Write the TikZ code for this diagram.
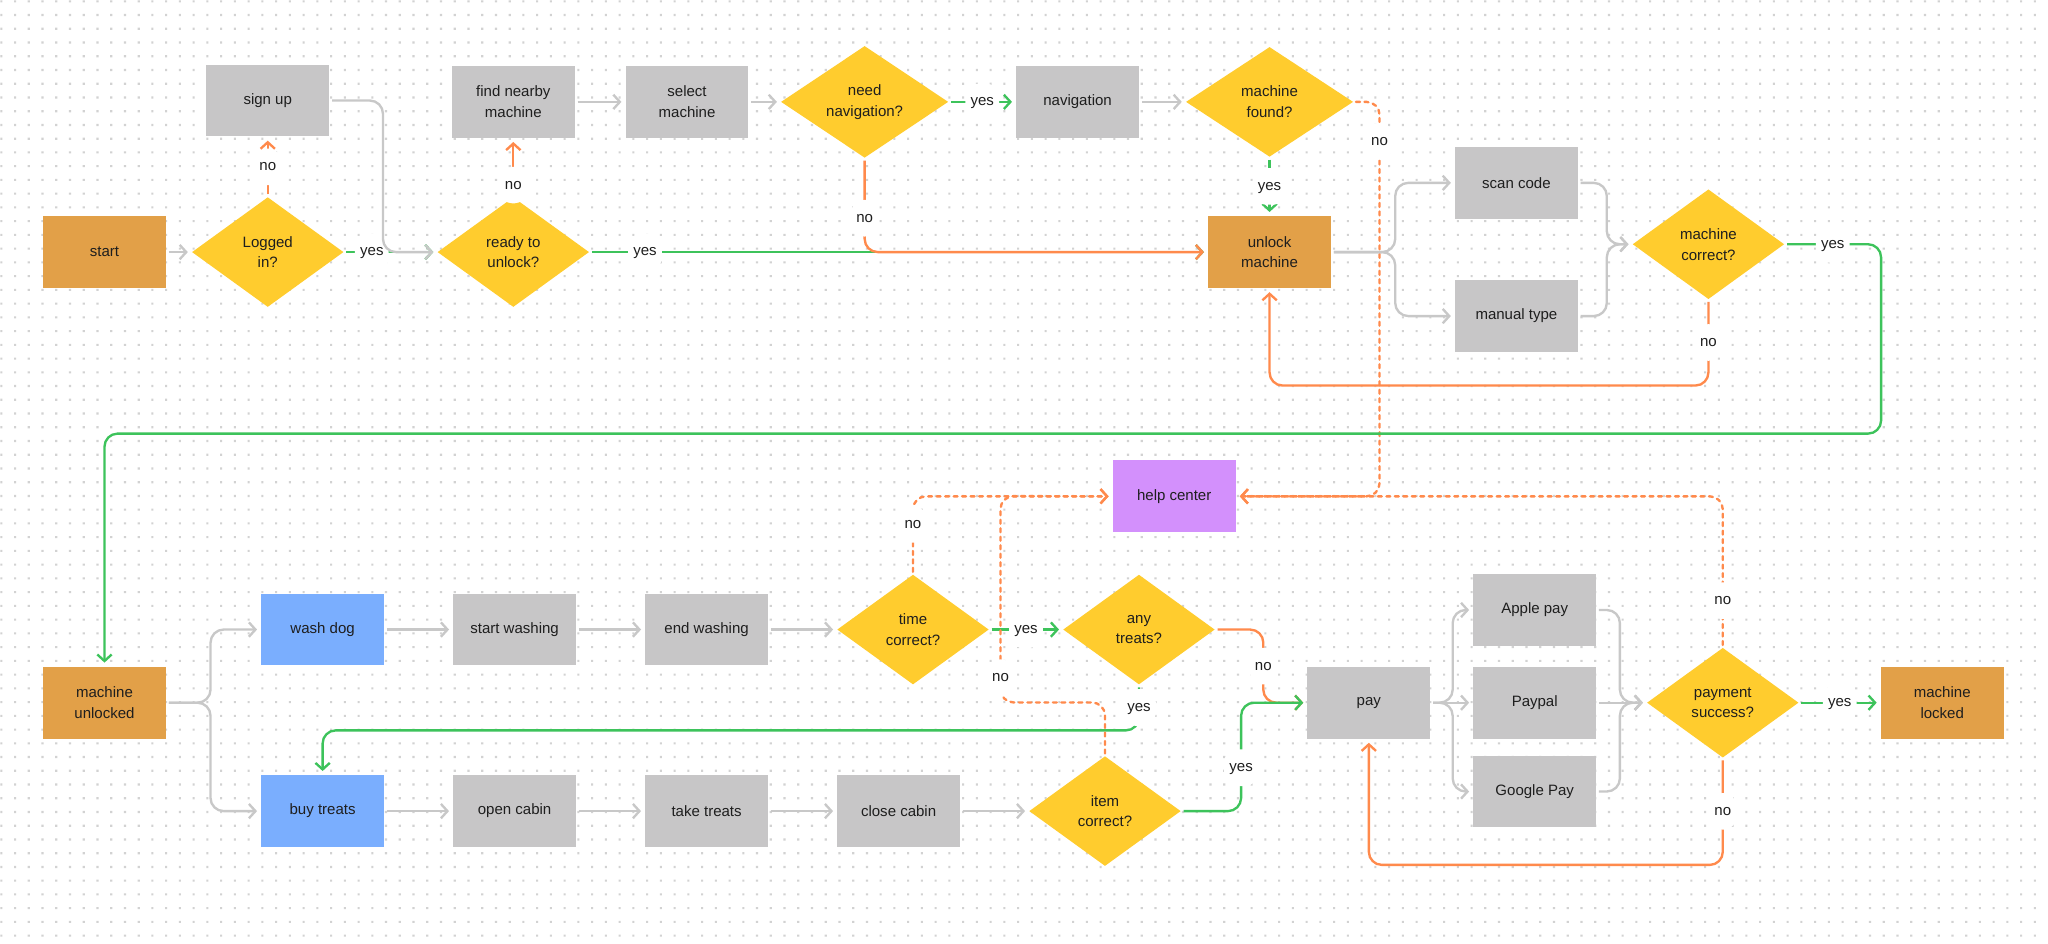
\documentclass[tikz,border=0pt]{standalone}
\usepackage{fontspec}
\setmainfont{Liberation Sans}
\usetikzlibrary{shapes.geometric,arrows.meta}

\definecolor{boxgray}{HTML}{C7C6C7}
\definecolor{boxorange}{HTML}{E2A048}
\definecolor{diayellow}{HTML}{FFCC2E}
\definecolor{boxblue}{HTML}{7AAEFE}
\definecolor{boxpurple}{HTML}{D390FC}
\definecolor{linegray}{HTML}{C8C8C8}
\definecolor{linegreen}{HTML}{3DC35B}
\definecolor{lineorange}{HTML}{FF8A4C}
\definecolor{dotgray}{HTML}{D2D2D2}
\definecolor{ink}{HTML}{1E1E1E}

\begin{document}
\begin{tikzpicture}[x=1pt, y=-1pt,
    >={Straight Barb[length=5pt,width=11pt]},
    every node/.style={font=\fontsize{11.5}{16}\selectfont, text=ink},
    process/.style={rectangle, fill=boxgray, minimum width=94pt, minimum height=55pt, align=center},
    terminal/.style={process, fill=boxorange},
    action/.style={process, fill=boxblue},
    helpbox/.style={process, fill=boxpurple},
    decision/.style={diamond, fill=diayellow, minimum width=116pt, minimum height=84pt, inner sep=0pt, align=center},
    link/.style={->, line width=1.8pt, rounded corners=10pt, line join=round, shorten >=3pt, shorten <=2pt},
    flow/.style={link, draw=linegray},
    yesflow/.style={link, draw=linegreen},
    noflow/.style={link, draw=lineorange},
    helpflow/.style={link, draw=lineorange, line cap=round, dash pattern=on 3pt off 3.5pt},
    answer/.style={fill=white, inner xsep=4pt, inner ysep=9pt, text height=8pt, text depth=2pt}]

  \fill[white] (0,0) rectangle (1568,722);
  \useasboundingbox (0,0) rectangle (1568,722);
  \foreach \j in {0,...,68}
    \fill[dotgray] \foreach \i in {0,...,148} {(0.2+10.52*\i, 0.2+10.52*\j) rectangle ++(1.6,1.6)};

  \node[process] (signup) at (205,77) {sign up};
  \node[process] (nearby) at (393,78) {find nearby\\machine};
  \node[process] (select) at (526,78) {select\\machine};
  \node[decision, minimum width=128pt] (neednav) at (662,78) {need\\navigation?};
  \node[process] (navig) at (825,78) {navigation};
  \node[decision, minimum width=128pt] (found) at (972,78) {machine\\found?};
  \node[terminal] (start) at (80,193) {start};
  \node[decision] (logged) at (205,193) {Logged\\in?};
  \node[decision] (ready) at (393,193) {ready to\\unlock?};
  \node[terminal] (unlock) at (972,193) {unlock\\machine};
  \node[process] (scan) at (1161,140) {scan code};
  \node[process] (manual) at (1161,242) {manual type};
  \node[decision] (mcorrect) at (1308,187) {machine\\correct?};
  \node[helpbox] (help) at (899,380) {help center};
  \node[terminal] (unlocked) at (80,538) {machine\\unlocked};
  \node[action] (wash) at (247,482) {wash dog};
  \node[process] (startw) at (394,482) {start washing};
  \node[process] (endw) at (541,482) {end washing};
  \node[decision] (time) at (699,482) {time\\correct?};
  \node[decision] (treats) at (872,482) {any\\treats?};
  \node[process] (pay) at (1048,538) {pay};
  \node[process] (apple) at (1175,467) {Apple pay};
  \node[process] (paypal) at (1175,538) {Paypal};
  \node[process] (google) at (1175,606) {Google Pay};
  \node[decision] (success) at (1319,538) {payment\\success?};
  \node[terminal] (locked) at (1487,538) {machine\\locked};
  \node[action] (buy) at (247,621) {buy treats};
  \node[process] (cabin) at (394,621) {open cabin};
  \node[process] (take) at (541,621) {take treats};
  \node[process] (close) at (688,621) {close cabin};
  \node[decision] (item) at (846,621) {item\\correct?};

  \draw[flow] (start) -- (logged);
  \draw[noflow] (logged) -- node[answer]{no} (signup);
  \draw[yesflow] (logged) -- node[answer, pos=0.3]{yes} (ready);
  \draw[flow] (signup.east) -- ++(41,0) |- (ready.west);
  \draw[noflow] (ready) -- node[answer, pos=0.2]{no} (nearby);
  \draw[yesflow] (ready) -- node[answer, pos=0.09]{yes} (unlock);
  \draw[flow] (nearby) -- (select);
  \draw[flow] (select) -- (neednav);
  \draw[yesflow] (neednav) -- node[answer]{yes} (navig);
  \draw[noflow] (neednav.south) |- node[answer, pos=0.32]{no} (unlock.west);
  \draw[flow] (navig) -- (found);
  \draw[yesflow] (found) -- node[answer]{yes} (unlock);
  \draw[helpflow] (found.east) -- ++(20,0) |- node[answer, pos=0.05]{no} (help.east);
  \draw[flow] (unlock.east) -- ++(49,0) |- (scan.west);
  \draw[flow] (unlock.east) -- ++(49,0) |- (manual.west);
  \draw[flow] (scan.east) -- ++(22,0) |- (mcorrect.west);
  \draw[flow] (manual.east) -- ++(22,0) |- (mcorrect.west);
  \draw[yesflow] (mcorrect.east) -- node[answer]{yes} ++(74,0) -- ++(0,145) -| (unlocked.north);
  \draw[noflow] (mcorrect.south) -- node[answer]{no} ++(0,66) -| (unlock.south);

  \draw[flow] (unlocked.east) -- ++(34,0) |- (wash.west);
  \draw[flow] (unlocked.east) -- ++(34,0) |- (buy.west);
  \draw[flow] (wash) -- (startw);
  \draw[flow] (startw) -- (endw);
  \draw[flow] (endw) -- (time);
  \draw[helpflow] (time.north) |- node[answer, pos=0.32]{no} (help.west);
  \draw[yesflow] (time) -- node[answer]{yes} (treats);
  \draw[noflow] (treats.east) -- ++(37,0) |- node[answer, pos=0.25]{no} (pay.west);
  \draw[yesflow] (treats.south) -- node[answer]{yes} ++(0,35) -| (buy.north);
  \draw[flow] (buy) -- (cabin);
  \draw[flow] (cabin) -- (take);
  \draw[flow] (take) -- (close);
  \draw[flow] (close) -- (item);
  \draw[helpflow] (item.north) -- ++(0,-41) -| node[answer, pos=0.56]{no} ++(-80,-158) -- (help.west);
  \draw[yesflow] (item.east) -- ++(46,0) |- node[answer, pos=0.2]{yes} (pay.west);
  \draw[flow] (pay.east) -- ++(17,0) |- (apple.west);
  \draw[flow] (pay) -- (paypal);
  \draw[flow] (pay.east) -- ++(17,0) |- (google.west);
  \draw[flow] (apple.east) -- ++(18,0) |- (success.west);
  \draw[flow] (paypal) -- (success);
  \draw[flow] (google.east) -- ++(18,0) |- (success.west);
  \draw[yesflow] (success) -- node[answer]{yes} (locked);
  \draw[helpflow] (success.north) |- node[answer, pos=0.155]{no} (help.east);
  \draw[noflow] (success.south) -- node[answer]{no} ++(0,82) -| (pay.south);
\end{tikzpicture}
\end{document}
